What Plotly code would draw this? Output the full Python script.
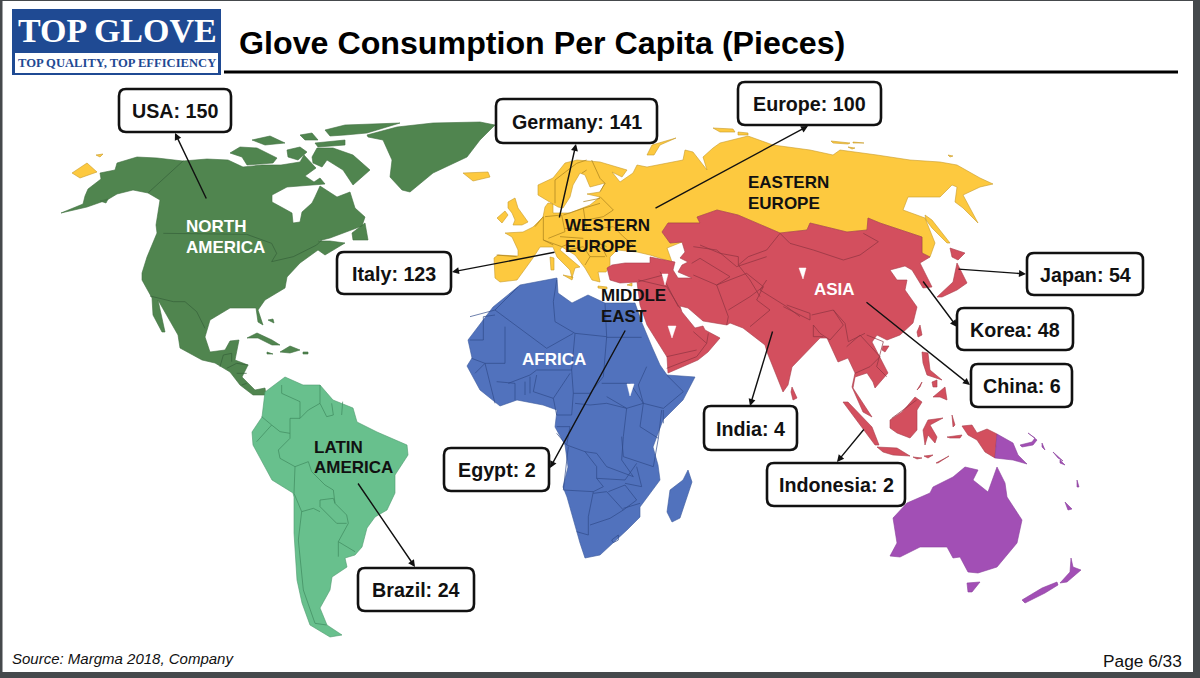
import plotly.graph_objects as go

# ---------- values shown in the callouts ----------
CALLOUT_NAMES = ["USA", "Germany", "Europe", "Italy", "Japan", "Korea", "China", "India", "Indonesia", "Egypt", "Brazil"]
CALLOUT_VALUES = [150, 141, 100, 123, 54, 48, 6, 4, 2, 2, 24]
CALLOUT_BOXES = [(119,89,231,132),(496,99,657,143),(738,82,881,125),(337,252,451,294),(1027,253,1143,295),
                 (957,308,1073,350),(971,364,1072,407),(704,406,797,450),(767,463,905,506),(444,448,549,491),(358,568,474,611)]
CALLOUT_ARROWS = [(207,200,175,133),(559,219,576,144),(654,209,808,126),(556,252,452,272),(957,269,1026,274),
                  (922,280,957,327),(865,301,970,385),(773,330,750,406),(865,428,837,462),(626,329,550,468),(357,482,415,567)]

REGION_LABELS = [("NORTH", 184, 226, "white"), ("AMERICA", 184, 247, "white"),
                 ("WESTERN", 563, 225, "#111"), ("EUROPE", 563, 246, "#111"),
                 ("EASTERN", 746, 182, "#111"), ("EUROPE", 746, 203, "#111"),
                 ("ASIA", 812, 289, "white"), ("MIDDLE", 599, 295, "#111"), ("EAST", 599, 316, "#111"),
                 ("AFRICA", 520, 359, "white"), ("LATIN", 312, 447, "#111"), ("AMERICA", 312, 467, "#111")]

# ---------- map outlines ----------
NORTH_AMERICA = [
 [(61,213),(83,204),(85,196),(88,189),(101,179),(100,173),(115,170),(117,163),(137,157),(157,158),(183,161),(207,159),(228,160),(243,167),(262,165),(281,165),(300,162),(304,155),(316,168),(305,176),(314,182),(320,178),(325,184),(310,185),(287,187),(272,195),(272,202),(283,208),(292,213),(293,223),(300,222),(302,212),(312,203),(315,197),(320,186),(337,197),(350,192),(355,208),(365,217),(362,226),(345,232),(330,238),(318,241),(330,241),(345,243),(325,255),(318,250),(300,263),(287,277),(285,288),(265,300),(258,310),(263,325),(258,322),(256,308),(230,308),(210,320),(205,337),(210,352),(225,350),(230,341),(239,340),(235,360),(248,365),(242,377),(255,390),(265,388),(266,395),(253,395),(240,385),(230,372),(215,363),(202,360),(180,348),(178,335),(165,313),(158,300),(165,332),(162,332),(153,315),(152,298),(142,280),(142,273),(147,257),(157,233),(156,225),(160,200),(148,193),(133,190),(117,194),(107,200),(87,207)],
 [(352,233),(365,223),(368,240),(353,240)],
 [(312,157),(317,148),(333,148),(353,155),(370,170),(353,185),(343,170),(327,160),(322,167),(313,163)],
 [(230,153),(240,147),(257,148),(277,158),(273,163),(247,165),(242,157)],
 [(287,150),(300,147),(307,152),(298,160),(288,157)],
 [(252,140),(270,136),(285,143),(265,145)],
 [(300,135),(312,133),(318,140),(305,140)],
 [(315,143),(345,140),(345,145),(318,147)],
 [(325,130),(345,125),(400,123),(367,133),(345,135),(330,136)],
 [(367,135),(397,127),(433,123),(480,122),(495,125),(480,140),(467,157),(433,173),(410,192),(402,190),(390,177),(392,160),(383,140),(368,137)],
 [(247,338),(257,333),(272,340),(280,345),(272,345),(258,338)],
 [(280,352),(290,346),(300,350),(290,353)],
 [(267,352),(273,354),(267,354)],
 [(303,352),(308,352),(308,354),(303,354)],
 [(268,320),(273,319),(274,323)],
 [(100,201),(108,199),(106,203)],
]
EUROPE_RUSSIA = [
 [(495,278),(494,258),(498,255),(518,256),(518,250),(512,237),(505,233),(523,232),(533,227),(543,217),(545,207),(548,203),(553,204),(553,213),(570,213),(585,207),(590,205),(600,197),(587,194),(600,192),(605,183),(590,187),(585,175),(580,173),(573,185),(570,197),(563,208),(558,207),(547,200),(538,195),(538,185),(553,178),(565,163),(577,160),(600,162),(627,170),(622,177),(612,172),(620,182),(633,173),(637,165),(647,167),(683,160),(685,150),(693,152),(707,170),(703,157),(713,148),(720,143),(748,136),(773,145),(810,150),(833,155),(840,150),(877,155),(910,160),(940,162),(957,165),(980,178),(993,184),(980,187),(963,195),(978,223),(963,208),(955,202),(957,187),(952,185),(940,197),(908,197),(903,210),(925,218),(935,243),(930,257),(922,253),(922,237),(880,223),(868,218),(867,230),(847,232),(810,223),(807,230),(780,233),(738,215),(717,210),(697,217),(700,223),(668,223),(662,232),(670,243),(682,242),(667,248),(672,262),(650,255),(637,252),(617,250),(610,257),(610,265),(606,272),(598,272),(600,282),(592,280),(585,268),(575,255),(562,247),(560,250),(580,267),(575,268),(572,278),(570,270),(557,257),(553,247),(540,247),(533,258),(517,280),(500,282)],
 [(508,202),(515,198),(518,208),(528,222),(522,225),(513,225),(515,220),(512,213),(508,208)],
 [(497,218),(505,211),(508,215),(502,223)],
 [(563,275),(573,277),(572,280)],
 [(550,257),(554,258),(554,270),(551,270)],
 [(598,286),(607,287),(607,289),(598,288)],
 [(627,285),(632,283),(632,286)],
 [(647,155),(652,145),(676,138),(660,145),(654,155)],
 [(713,128),(733,129),(735,132),(720,132)],
 [(738,132),(748,133),(748,135),(738,135)],
 [(831,141),(850,143),(848,144),(833,143)],
 [(853,142),(864,143),(853,143)],
 [(848,147),(855,148),(852,149)],
 [(948,155),(953,156),(950,157)],
 [(925,215),(932,220),(950,243),(947,243),(932,228),(926,220)],
 [(72,173),(87,163),(97,172),(80,178)],
 [(96,155),(103,154),(100,157)],
 [(463,173),(488,172),(490,177),(473,181)],
]
ASIA = [
 [(607,268),(612,265),(625,263),(650,263),(650,257),(672,262),(675,262),(673,270),(678,278),(692,278),(678,272),(682,265),(688,262),(680,258),(685,252),(682,242),(670,243),(662,232),(668,223),(700,223),(697,217),(717,210),(738,215),(780,233),(807,230),(810,223),(847,232),(867,230),(868,218),(880,223),(922,237),(922,253),(930,257),(920,263),(932,287),(923,288),(912,270),(905,266),(890,270),(897,280),(907,280),(905,290),(917,307),(913,323),(900,335),(887,340),(877,335),(872,342),(888,373),(875,388),(873,382),(867,373),(855,377),(853,388),(872,417),(863,412),(852,387),(855,373),(848,358),(838,362),(827,338),(820,338),(810,348),(792,367),(788,385),(783,392),(767,352),(765,345),(743,328),(730,323),(727,325),(707,322),(703,321),(688,308),(680,306),(682,312),(695,328),(703,326),(705,330),(720,338),(708,352),(698,360),(668,373),(667,357),(647,325),(640,305),(637,282),(620,283),(610,280)],
 [(950,248),(965,253),(958,260),(952,257)],
 [(957,263),(967,283),(957,290),(942,297),(937,297),(947,288),(953,282)],
 [(792,387),(797,398),(793,400),(791,392)],
 [(920,325),(922,335),(918,337),(917,332)],
 [(883,346),(889,346),(885,352),(882,350)],
 [(922,352),(928,353),(930,370),(942,380),(927,375),(923,363)],
 [(933,397),(945,387),(947,400),(940,397)],
 [(932,382),(937,380),(937,387),(933,387)],
 [(917,390),(922,382),(920,387)],
 [(843,402),(848,402),(872,427),(879,445),(875,445),(860,425)],
 [(877,447),(897,448),(910,456),(893,455),(883,452)],
 [(890,420),(902,412),(915,397),(922,402),(917,410),(917,430),(910,438),(897,433),(890,428)],
 [(923,430),(928,420),(943,418),(930,425),(937,437),(935,443),(928,435),(925,445)],
 [(936,463),(949,456),(938,463)],
 [(913,457),(922,458),(917,459)],
 [(924,456),(933,455),(928,458)],
 [(947,437),(962,435),(960,438),(950,438)],
 [(952,415),(955,425),(953,427)],
 [(962,426),(972,425),(977,433),(987,429),(997,434),(995,458),(985,452),(977,440),(968,435)],
]
OCEANIA = [
 [(997,434),(1013,443),(1018,455),(1027,464),(1013,460),(995,458)],
 [(1020,445),(1032,442),(1035,438),(1028,433),(1037,440),(1033,445),(1022,447)],
 [(1042,443),(1045,450),(1042,447)],
 [(1053,452),(1063,461),(1058,458)],
 [(1060,460),(1065,465),(1060,463)],
 [(1077,480),(1079,487),(1077,487)],
 [(1065,502),(1072,509),(1068,510)],
 [(893,518),(907,503),(930,493),(933,487),(953,477),(965,467),(978,470),(973,480),(988,492),(997,467),(1005,483),(1007,497),(1022,520),(1017,543),(997,567),(978,573),(968,572),(960,557),(953,558),(947,547),(920,547),(900,557),(890,556),(897,543)],
 [(967,583),(980,582),(972,592),(968,592)],
 [(1071,558),(1073,567),(1081,570),(1067,582),(1060,583),(1070,572)],
 [(1057,582),(1058,585),(1045,593),(1025,603),(1022,600),(1042,588)],
]
AFRICA = [
 [(520,285),(547,280),(557,278),(558,293),(572,303),(588,295),(605,303),(635,303),(642,323),(652,347),(660,365),(667,375),(695,377),(683,400),(663,420),(653,447),(658,465),(660,480),(640,507),(640,517),(627,530),(600,555),(585,558),(580,543),(567,497),(563,487),(568,467),(565,445),(555,427),(557,410),(543,405),(517,400),(500,406),(480,390),(467,366),(472,358),(468,340),(493,307)],
 [(688,470),(692,482),(680,518),(672,522),(667,512),(670,490),(683,480)],
]
LATIN_AMERICA = [
 [(265,392),(285,377),(303,385),(320,385),(333,400),(353,408),(357,422),(377,432),(407,445),(408,455),(395,475),(395,493),(387,510),(375,517),(367,528),(362,547),(355,555),(345,558),(347,567),(332,577),(330,590),(320,608),(327,625),(342,635),(330,637),(310,625),(302,603),(297,580),(294,533),(294,497),(293,493),(272,480),(253,445),(252,432),(262,417)],
]

# inner borders, in 3x crop units relative to a crop origin
BORDERS_NORTH_AMERICA = (0, 0, [
 [(445,578),(550,482)],[(490,700),(740,703),(815,730),(830,760),(815,785),(880,770),(950,735),(965,720)],
 [(450,888),(520,905),(555,905),(590,935),(615,985)]])
BORDERS_CENTRAL = (130, 270, [[(270,290),(280,255),(305,250),(305,275)],[(290,295),(320,280),(355,285)],[(320,310),(350,310)],[(335,345),(350,340)]])
BORDERS_LATIN = (220, 360, [
 [(185,75),(185,100),(240,125),(240,175),(265,150),(300,130),(300,75)],[(300,130),(320,170),(340,165),(335,130)],[(365,165),(368,125)],
 [(240,175),(210,175),(210,235),(175,270),(180,295),(225,320),(265,305),(275,335),(315,375),(340,390),(345,430),(380,465),(385,490),(355,545),(405,575)],
 [(225,320),(222,400),(245,455),(280,445),(300,455)],[(300,420),(340,415),(345,430)],[(300,420),(300,440),(350,490),(380,490)],
 [(245,455),(235,540),(250,690),(285,790),(320,795)],[(125,170),(155,195),(110,245)],[(155,195),(180,215),(210,220)],[(355,545),(355,590)]])
BORDERS_AFRICA = (450, 260, [
 [(205,80),(135,150),(60,170)],[(320,60),(310,125),(315,185),(375,220)],[(135,150),(290,265),(370,220)],[(60,240),(100,240),(100,170),(135,165)],
 [(165,200),(165,310),(105,310),(65,295)],[(375,220),(365,330),(260,330),(240,345),(175,370)],[(465,130),(470,230),(375,220)],[(470,232),(575,232)],
 [(470,230),(460,350),(420,400),(370,400),(365,330)],[(455,370),(540,370),(580,430),(530,445),(470,410)],[(590,320),(565,375),(580,430),(640,445),(700,395),(650,345)],
 [(580,430),(570,500),(625,535),(635,450)],[(640,450),(640,490)],[(515,530),(520,590),(610,620),(625,535)],
 [(375,430),(420,435),(470,430),(530,445),(520,530),(515,600),(550,650),(500,630),(470,620),(440,580),(405,575),(350,555),(320,520)],
 [(260,345),(250,395),(310,415),(360,340)],[(310,415),(320,465),(365,465),(370,400)],[(320,500),(360,500),(350,555)],
 [(355,560),(340,690),(430,695),(460,680),(440,655),(440,620),(405,575)],[(440,655),(525,660),(560,610)],[(430,695),(415,770),(415,825),(380,815)],
 [(430,700),(470,695),(520,750),(480,775),(420,795)],[(475,695),(525,675),(560,720),(520,750)],[(570,730),(520,745)],[(525,670),(575,680),(560,620)],
 [(485,840),(505,825),(505,840),(490,848),(485,840)],[(75,340),(105,310),(120,370),(135,430)],[(140,365),(195,370),(195,420)],[(225,365),(225,405)],[(240,350),(240,400)]])
BORDERS_ASIA_WEST = (600, 200, [
 [(180,215),(235,320)],[(350,255),(385,350),(380,375)],[(115,245),(190,225)],[(275,190),(300,175),(390,230),(350,255),(280,225)],
 [(280,140),(350,150),(410,200),(500,170)],[(350,255),(440,220),(490,260),(450,290),(385,330)],[(490,260),(470,300),(510,330),(450,380)],
 [(115,240),(200,260),(240,325)],[(200,505),(290,470),(320,430),(280,395)],[(320,430),(325,400)],[(200,470),(290,450)],[(500,240),(480,270),(560,320),(600,350)]])
BORDERS_ASIA_EAST = (700, 80, [[(240,460),(270,490),(340,510),(430,540),(480,525),(535,485),(490,460)],[(240,460),(200,510),(145,530),(115,555)],[(0,495),(60,520),(115,530),(115,555),(150,600),(180,650)]])
BORDERS_ASIA_SOUTH = (720, 270, [
 [(190,110),(270,150),(270,130),(200,105)],[(275,135),(340,120),(370,165),(330,210),(300,190),(280,165),(280,200),(310,200)],
 [(340,120),(375,160),(385,215),(435,190)],[(380,230),(420,195),(480,260),(450,290),(405,310)],[(440,195),(490,215),(470,290),(500,320)],[(515,445),(590,390)]])
BORDERS_EUROPE = (490, 150, [
 [(195,160),(195,90),(260,40),(290,30)],[(290,60),(275,70)],[(305,30),(330,85),(345,100),(330,125)],[(20,315),(80,320)],
 [(135,230),(160,200)],[(160,200),(160,270),(190,285)],[(165,200),(215,195),(225,245),(175,265)],[(220,195),(280,175),(290,240),(225,235)],
 [(280,175),(330,160)],[(280,155),(330,145)],[(290,210),(340,200),(370,180),(330,140)],[(290,240),(370,230),(400,260),(430,285),(410,300)],[(350,290),(300,270)],
 [(300,270),(340,300),(350,320)],[(300,320),(345,320)],[(235,300),(280,290),(300,320),(285,345)],[(160,270),(215,290),(240,280)],[(210,260),(280,265)]])

WHITE_MARKS = [[(799,268),(806,268),(803,279)],[(662,274),(668,274),(665,285)],[(668,326),(676,326),(672,338)],[(627,384),(634,384),(630,396)]]

REGION_STYLES = [(NORTH_AMERICA, "#50854f", "#3f6f3f"), (EUROPE_RUSSIA, "#fdc93f", "#c79a2a"), (ASIA, "#d34f5e", "#a83c49"),
                 (OCEANIA, "#a24fb5", "#8a3f9c"), (AFRICA, "#5172bd", "#3d5a9c"), (LATIN_AMERICA, "#68c08d", "#4f9b6f")]
BORDER_STYLES = [(BORDERS_NORTH_AMERICA, "#35603a"), (BORDERS_CENTRAL, "#35603a"), (BORDERS_LATIN, "#3f8a5f"), (BORDERS_AFRICA, "#2f4a8a"),
                 (BORDERS_ASIA_WEST, "#8e3340"), (BORDERS_ASIA_EAST, "#8e3340"), (BORDERS_ASIA_SOUTH, "#8e3340"), (BORDERS_EUROPE, "#a87f1c")]

def flat(polys):
    xs, ys = [], []
    for p in polys:
        for a, b in list(p) + [p[0]]:
            xs.append(a); ys.append(b)
        xs.append(None); ys.append(None)
    return xs, ys

fig = go.Figure()
for polys, fill, edge in REGION_STYLES:
    xs, ys = flat(polys)
    fig.add_trace(go.Scatter(x=xs, y=ys, mode="lines", fill="toself", fillcolor=fill, line=dict(color=edge, width=0.6),
                             hoverinfo="skip", showlegend=False))
for (ox, oy, lines), col in BORDER_STYLES:
    xs, ys = [], []
    for ln in lines:
        for a, b in ln:
            xs.append(ox + a / 3); ys.append(oy + b / 3)
        xs.append(None); ys.append(None)
    fig.add_trace(go.Scatter(x=xs, y=ys, mode="lines", line=dict(color=col, width=0.7), hoverinfo="skip", showlegend=False))
xs, ys = flat(WHITE_MARKS)
fig.add_trace(go.Scatter(x=xs, y=ys, mode="lines", fill="toself", fillcolor="white", line=dict(color="white", width=0.5),
                         hoverinfo="skip", showlegend=False))

def rounded(x0, y0, x1, y1, r=7):
    return (f"M{x0+r},{y0} L{x1-r},{y0} Q{x1},{y0} {x1},{y0+r} L{x1},{y1-r} Q{x1},{y1} {x1-r},{y1} "
            f"L{x0+r},{y1} Q{x0},{y1} {x0},{y1-r} L{x0},{y0+r} Q{x0},{y0} {x0+r},{y0} Z")

shapes, ann = [], []
DARK = "#45494c"
for r in [(0,0,1200,1),(0,0,2.5,678),(1193,0,1200,678),(0,672,1200,678)]:
    shapes.append(dict(type="rect", x0=r[0], y0=r[1], x1=r[2], y1=r[3], fillcolor=DARK, line_width=0))
shapes.append(dict(type="rect", x0=12, y0=9, x1=221, y1=75, fillcolor="#1f4a93", line_width=0))
shapes.append(dict(type="rect", x0=15, y0=53, x1=218, y1=73, fillcolor="white", line_width=0))
shapes.append(dict(type="line", x0=224, y0=72, x1=1178, y1=72, line=dict(color="black", width=3)))

SANS = "Liberation Sans"
for name, val, b, a in zip(CALLOUT_NAMES, CALLOUT_VALUES, CALLOUT_BOXES, CALLOUT_ARROWS):
    shapes.append(dict(type="path", path=rounded(*b), fillcolor="white", line=dict(color="#111", width=2.6)))
    ann.append(dict(x=(b[0]+b[2])/2, y=(b[1]+b[3])/2+0.5, text=f"<b>{name}: {val}</b>", showarrow=False,
                    font=dict(family=SANS, size=19.7, color="#111")))
    ann.append(dict(x=a[2], y=a[3], ax=a[0], ay=a[1], xref="x", yref="y", axref="x", ayref="y", text="", showarrow=True,
                    arrowhead=2, arrowsize=1, arrowwidth=1.4, arrowcolor="#111"))
for t, x, y, c in REGION_LABELS:
    ann.append(dict(x=x, y=y, text=f"<b>{t}</b>", showarrow=False, xanchor="left", font=dict(family=SANS, size=17, color=c)))

ann.append(dict(x=117, y=30, text="<b>TOP GLOVE</b>", showarrow=False, font=dict(family="Liberation Serif", size=34, color="white")))
ann.append(dict(x=117, y=63, text="<b>TOP QUALITY, TOP EFFICIENCY</b>", showarrow=False, font=dict(family="Liberation Serif", size=12.6, color="#1f4a93")))
ann.append(dict(x=237, y=43, text="<b>Glove Consumption Per Capita (Pieces)</b>", showarrow=False, xanchor="left", font=dict(family=SANS, size=32.2, color="black")))
ann.append(dict(x=10, y=658, text="<i>Source: Margma 2018, Company</i>", showarrow=False, xanchor="left", font=dict(family=SANS, size=15, color="#111")))
ann.append(dict(x=1184, y=661, text="Page 6/33", showarrow=False, xanchor="right", font=dict(family=SANS, size=17.3, color="#111")))
for d in ann:
    d.setdefault("xref", "x"); d.setdefault("yref", "y")

fig.update_layout(width=1200, height=678, margin=dict(l=0, r=0, t=0, b=0), paper_bgcolor="white", plot_bgcolor="white",
                  shapes=shapes, annotations=ann, showlegend=False,
                  xaxis=dict(range=[0,1200], visible=False, fixedrange=True),
                  yaxis=dict(range=[678,0], visible=False, fixedrange=True))
fig.write_html("out.html", config=dict(displayModeBar=False), post_script="document.body.style.margin='0';document.documentElement.style.overflow='hidden';")
